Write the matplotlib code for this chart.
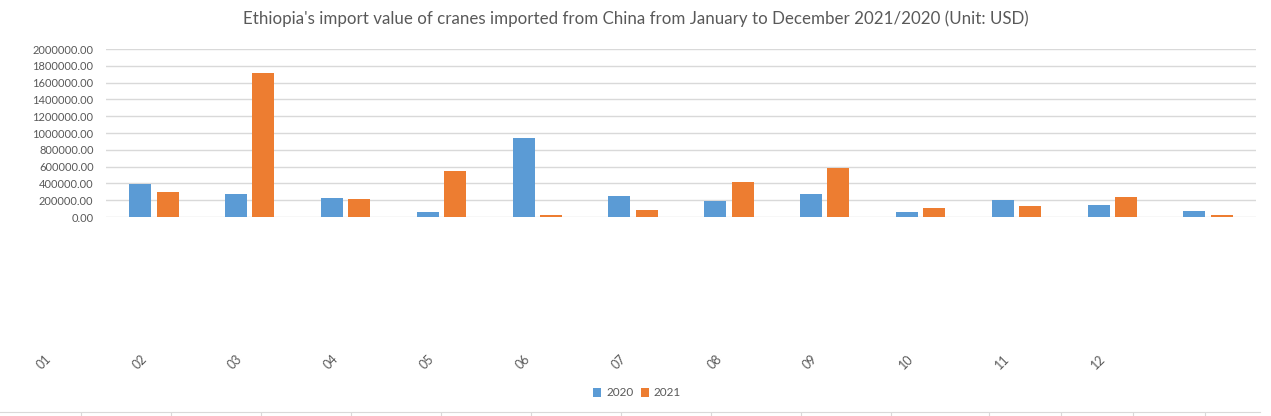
import matplotlib.pyplot as plt
import matplotlib.transforms as mtransforms
import numpy as np

plt.rcParams['font.family'] = ['Lato', 'DejaVu Sans']

# data
months = ["01", "02", "03", "04", "05", "06", "07", "08", "09", "10", "11", "12"]
val_2020 = [393000, 274000, 226000, 60000, 940000, 250000, 194000, 274000, 60000, 202000, 143000, 71000]
val_2021 = [298000, 1714000, 214000, 548000, 24000, 83000, 417000, 583000, 107000, 131000, 238000, 24000]
series = ["2020", "2021"]
colors = ["#5B9BD5", "#ED7D31"]
# tick marks on the bottom frame line (pixel positions)
frame_ticks = [81, 171, 261, 351, 441, 531, 621, 711, 801, 891, 989, 1061, 1133, 1205]

W, H = 1271, 416
fig = plt.figure(figsize=(W / 100, H / 100), dpi=100)
ax = fig.add_axes([106 / W, 1 - 217 / H, (1256 - 106) / W, (217 - 49) / H])

x = np.arange(len(months))
w = 0.23
ax.bar(x - 0.143, val_2020, w, color=colors[0], label=series[0])
ax.bar(x + 0.143, val_2021, w, color=colors[1], label=series[1])

ax.set_xlim(-0.5, len(months) - 0.5)
ax.set_ylim(0, 2000000)
ax.set_yticks(np.arange(0, 2000001, 200000))
ax.set_yticklabels([f"{v:.2f}" for v in np.arange(0, 2000001, 200000)])
ax.yaxis.grid(True, color="#d9d9d9", linewidth=1)
ax.set_axisbelow(True)
for s in ax.spines.values():
    s.set_visible(False)
ax.tick_params(axis="y", length=0, labelsize=8, colors="#595959", pad=9)
ax.set_xticks([])

# month labels, shifted one slot to the left as in the original
trans = mtransforms.blended_transform_factory(ax.transData, fig.transFigure)
for i, m in enumerate(months):
    ax.text(i - 1.15, 1 - 362 / H, m, transform=trans, rotation=45,
            ha="center", va="center", fontsize=9, color="#595959", clip_on=False)

fig.text(0.5, 1 - 19 / H,
         "Ethiopia's import value of cranes imported from China from January to December 2021/2020 (Unit: USD)",
         ha="center", va="center", fontsize=12.2, color="#595959")

fig.legend(loc="center", bbox_to_anchor=(637 / W, 1 - 393 / H), ncol=2, frameon=False,
           fontsize=8.5, handlelength=0.7, handleheight=0.7, handletextpad=0.4,
           columnspacing=0.6, labelcolor="#595959")

# bottom frame line with tick marks
bx = fig.add_axes([0, 0, 1260 / W, 1 - 412 / H])
bx.set_xlim(0, 1260)
bx.set_ylim(0, 1)
bx.patch.set_visible(False)
for s in ["left", "right", "bottom"]:
    bx.spines[s].set_visible(False)
bx.spines["top"].set_color("#d9d9d9")
bx.set_yticks([])
bx.xaxis.set_ticks_position("top")
bx.set_xticks(frame_ticks)
bx.tick_params(axis="x", direction="in", length=4, color="#d9d9d9", labeltop=False, labelbottom=False)

fig.savefig("out.png", dpi=100)
